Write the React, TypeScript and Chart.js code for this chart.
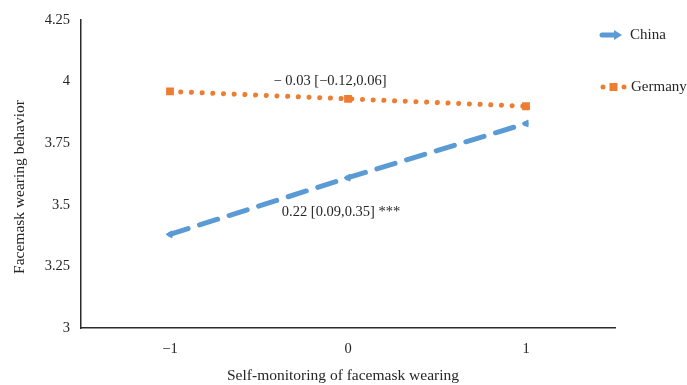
import React, { useEffect, useRef } from "react";
import { Chart, registerables } from "chart.js";

Chart.register(...registerables);

const categories = ["\u22121", "0", "1"];
const chinaValues = [3.38, 3.61, 3.83];
const germanyValues = [3.96, 3.93, 3.9];
const yMin = 3;
const yMax = 4.25;
const yStep = 0.25;
const seriesNames = ["China", "Germany"];
const germanyNote = "\u2212 0.03 [\u22120.12,0.06]";
const chinaNote = "0.22 [0.09,0.35] ***";
const xTitle = "Self-monitoring of facemask wearing";
const yTitle = "Facemask wearing behavior";

const BLUE = "#5B9BD5";
const ORANGE = "#ED7D31";
const FONT = "'Liberation Serif', 'Times New Roman', serif";
const TEXT = "#262626";

const overlayPlugin = {
  id: "overlay",
  afterDraw(chart: any) {
    const ctx = chart.ctx;
    const xs = chart.scales.x;
    const ys = chart.scales.y;
    const area = chart.chartArea;
    ctx.save();
    ctx.fillStyle = TEXT;
    ctx.textBaseline = "middle";
    ctx.textAlign = "center";

    // axis titles
    ctx.font = `15.5px ${FONT}`;
    ctx.fillText(xTitle, (area.left + area.right) / 2 - 5, area.bottom + 48);
    ctx.save();
    ctx.translate(20, (area.top + area.bottom) / 2 + 13);
    ctx.rotate(-Math.PI / 2);
    ctx.fillText(yTitle, 0, 0);
    ctx.restore();

    // annotations anchored to data coordinates
    ctx.font = `14.5px ${FONT}`;
    ctx.fillText(germanyNote, xs.getPixelForValue(1) - 18, ys.getPixelForValue(4.0));
    ctx.fillText(chinaNote, xs.getPixelForValue(1) - 7, ys.getPixelForValue(3.47));

    // legend
    const lx = 600;
    const y1 = 35;
    const y2 = 87;
    ctx.strokeStyle = BLUE;
    ctx.fillStyle = BLUE;
    ctx.lineWidth = 5;
    ctx.lineCap = "round";
    ctx.beginPath();
    ctx.moveTo(lx + 2, y1);
    ctx.lineTo(lx + 16, y1);
    ctx.stroke();
    ctx.beginPath();
    ctx.moveTo(lx + 22, y1);
    ctx.lineTo(lx + 14, y1 - 5);
    ctx.lineTo(lx + 14, y1 + 5);
    ctx.closePath();
    ctx.fill();

    ctx.fillStyle = ORANGE;
    ctx.beginPath();
    ctx.arc(lx + 3, y2, 2.5, 0, Math.PI * 2);
    ctx.fill();
    ctx.beginPath();
    ctx.arc(lx + 24, y2, 2.5, 0, Math.PI * 2);
    ctx.fill();
    ctx.fillRect(lx + 9.5, y2 - 4, 8, 8);

    ctx.fillStyle = TEXT;
    ctx.textAlign = "left";
    ctx.font = `15px ${FONT}`;
    ctx.fillText(seriesNames[0], lx + 30, y1);
    ctx.fillText(seriesNames[1], lx + 31, y2);
    ctx.restore();
  },
};

export default function App() {
  const ref = useRef<HTMLCanvasElement>(null);
  useEffect(() => {
    if (!ref.current) return;
    const chart = new Chart(ref.current, {
      type: "line",
      data: {
        labels: categories,
        datasets: [
          {
            label: seriesNames[0],
            data: chinaValues,
            borderColor: BLUE,
            backgroundColor: BLUE,
            borderWidth: 5,
            borderDash: [19, 12],
            borderCapStyle: "round",
            pointStyle: "triangle",
            pointRotation: -90,
            pointRadius: 4,
            pointBorderWidth: 1,
            tension: 0,
          },
          {
            label: seriesNames[1],
            data: germanyValues,
            borderColor: ORANGE,
            backgroundColor: ORANGE,
            borderWidth: 5,
            borderDash: [0.1, 10.6],
            borderCapStyle: "round",
            pointStyle: "rect",
            pointRadius: 5.5,
            pointBorderWidth: 0,
            tension: 0,
          },
        ],
      },
      options: {
        animation: false,
        responsive: false,
        maintainAspectRatio: false,
        layout: { padding: { left: 0, right: 72, top: 20, bottom: 0 } },
        plugins: { legend: { display: false }, tooltip: { enabled: false } },
        scales: {
          x: {
            type: "category",
            offset: true,
            grid: { display: false, drawTicks: false },
            border: { display: true, color: "#2b2b2b", width: 1.5 },
            ticks: { color: TEXT, font: { family: FONT, size: 14.5 }, padding: 12 },
            title: { display: false, text: xTitle },
            afterFit: (s: any) => {
              s.height = 57;
            },
          },
          y: {
            min: yMin,
            max: yMax,
            grid: { display: false, drawTicks: false },
            border: { display: true, color: "#2b2b2b", width: 1.5 },
            ticks: {
              stepSize: yStep,
              color: TEXT,
              font: { family: FONT, size: 14.5 },
              padding: 11,
              callback: (v: any) => String(Number(v)),
            },
            title: { display: false, text: yTitle },
            afterFit: (s: any) => {
              s.width = 81;
            },
          },
        },
      },
      plugins: [overlayPlugin],
    } as any);
    return () => chart.destroy();
  }, []);
  return (
    <div style={{ position: "fixed", left: 0, top: 0, width: 687, height: 385, background: "#fff" }}>
      <canvas ref={ref} width={687} height={385} style={{ width: 687, height: 385 }} />
    </div>
  );
}
